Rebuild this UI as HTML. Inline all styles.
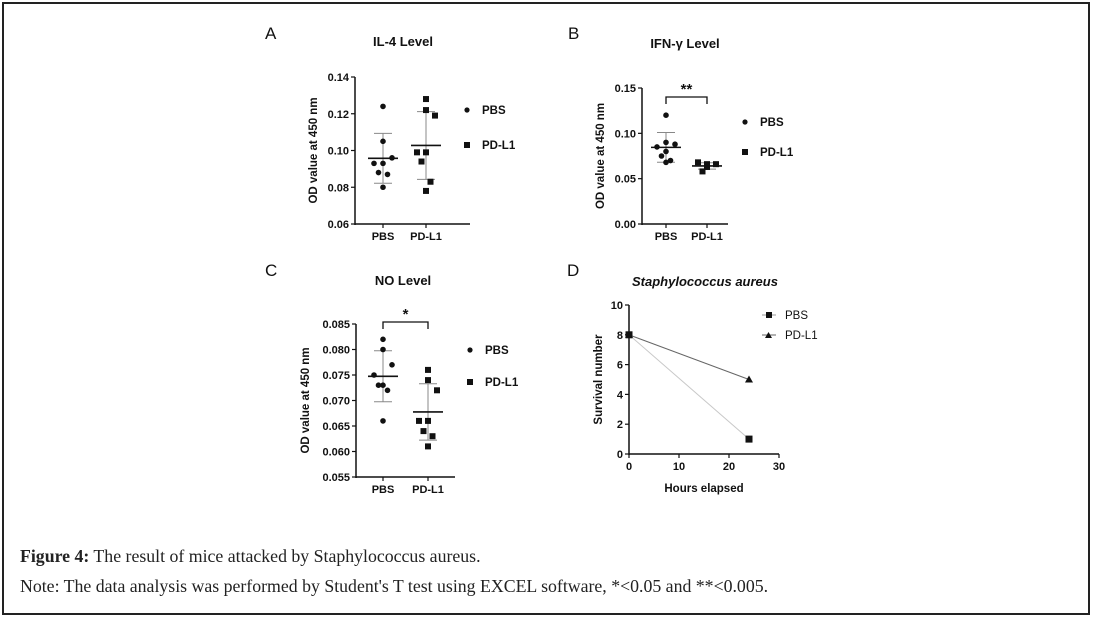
<!DOCTYPE html>
<html><head><meta charset="utf-8"><style>
body{margin:0;background:#fff;width:1093px;height:617px;overflow:hidden;font-family:"Liberation Sans",sans-serif}
#frame{position:absolute;left:2px;top:2px;width:1084px;height:609px;border:2px solid #222}
.cap{position:absolute;left:20px;font-family:"Liberation Serif",serif;font-size:17.8px;color:#222;white-space:nowrap}
svg text{font-family:"Liberation Sans",sans-serif;fill:#111}
</style></head><body>
<div id="frame"></div>
<svg id="chart" width="1093" height="617" style="position:absolute;left:0;top:0"></svg>
<div class="cap" style="top:546px"><b>Figure 4:</b> The result of mice attacked by Staphylococcus aureus.</div>
<div class="cap" style="top:576px">Note: The data analysis was performed by Student's T test using EXCEL software, *&lt;0.05 and **&lt;0.005.</div>
<script>
const groups=['PBS','PD-L1'];
const il4PBS=[0.124,0.105,0.096,0.093,0.093,0.088,0.087,0.080];
const il4PDL1=[0.128,0.122,0.119,0.099,0.099,0.094,0.083,0.078];
const il4Ticks=[0.06,0.08,0.10,0.12,0.14];
const ifnPBS=[0.120,0.090,0.088,0.085,0.080,0.075,0.070,0.068];
const ifnPDL1=[0.063,0.063,0.066,0.068,0.066,0.058];
const ifnTicks=[0.00,0.05,0.10,0.15];
const noPBS=[0.082,0.080,0.077,0.075,0.073,0.073,0.072,0.066];
const noPDL1=[0.076,0.074,0.072,0.066,0.066,0.064,0.063,0.061];
const noTicks=[0.055,0.060,0.065,0.070,0.075,0.080,0.085];
const hours=[0,24];
const survPBS=[8,1];
const survPDL1=[8,5];
const survYTicks=[0,2,4,6,8,10];
const survXTicks=[0,10,20,30];

const svg=document.getElementById('chart');
const NS='http://www.w3.org/2000/svg';
function mk(tag,attrs,parent){const e=document.createElementNS(NS,tag);for(const k in attrs)e.setAttribute(k,attrs[k]);(parent||svg).appendChild(e);return e;}
function txt(s,attrs,parent){const e=mk('text',attrs,parent);e.textContent=s;return e;}
function mean(a){return a.reduce((s,v)=>s+v,0)/a.length;}
function sd(a){const m=mean(a);return Math.sqrt(a.reduce((s,v)=>s+(v-m)*(v-m),0)/(a.length-1));}
const jit=[0,0,1,-1,0,-0.5,0.5,0,1,-1];

function scatterPanel(o){
  const g=mk('g',{});
  
  
  const Y=v=>o.y0-(v-o.lo)/(o.hi-o.lo)*(o.y0-o.y1);
  let t=txt(o.letter,{x:o.lx,y:o.ly,'font-size':17},g);
  
  t=txt(o.title,{x:o.tx,y:o.ty,'font-size':13,'font-weight':'bold','text-anchor':'middle'},g);
  
  mk('line',{x1:o.ax,y1:o.y1,x2:o.ax,y2:o.y0+1,stroke:'#111','stroke-width':1.5},g);
  mk('line',{x1:o.ax,y1:o.y0,x2:o.axEnd,y2:o.y0,stroke:'#111','stroke-width':1.5},g);
  o.ticks.forEach(v=>{
    mk('line',{x1:o.ax-4,y1:Y(v),x2:o.ax,y2:Y(v),stroke:'#111','stroke-width':1.2},g);
    const l=txt(v.toFixed(o.dec),{x:o.ax-6,y:Y(v)+4,'font-size':11,'font-weight':'bold','text-anchor':'end'},g);
    
  });
  const yt=txt('OD value at 450 nm',{x:0,y:0,'font-size':11.5,'font-weight':'bold','text-anchor':'middle',transform:`translate(${o.ytx},${(o.y0+o.y1)/2}) rotate(-90)`},g);
  
  [o.a,o.b].forEach((arr,i)=>{
    const cx=o.cx[i];
    mk('line',{x1:cx,y1:o.y0,x2:cx,y2:o.y0+4,stroke:'#111','stroke-width':1.2},g);
    const l=txt(groups[i],{x:cx,y:o.y0+16,'font-size':11,'font-weight':'bold','text-anchor':'middle'},g);
    
    const m=mean(arr),s=sd(arr);
    mk('line',{x1:cx,y1:Y(m+s),x2:cx,y2:Y(m-s),stroke:'#888','stroke-width':1},g);
    mk('line',{x1:cx-9,y1:Y(m+s),x2:cx+9,y2:Y(m+s),stroke:'#888','stroke-width':1},g);
    mk('line',{x1:cx-9,y1:Y(m-s),x2:cx+9,y2:Y(m-s),stroke:'#888','stroke-width':1},g);
    arr.forEach((v,j)=>{
      const px=cx+jit[j]*9;let e;
      if(i==0)e=mk('circle',{cx:px,cy:Y(v),r:2.8,fill:'#111'},g);
      else e=mk('rect',{x:px-3,y:Y(v)-3,width:6,height:6,fill:'#111'},g);
      
      
    });
    const ml=mk('line',{x1:cx-15,y1:Y(m),x2:cx+15,y2:Y(m),stroke:'#111','stroke-width':1.6},g);
    
  });
  if(o.sig){
    const br=mk('path',{d:`M${o.cx[0]},${o.by+7}V${o.by}H${o.cx[1]}V${o.by+7}`,fill:'none',stroke:'#111','stroke-width':1.3},g);
    
    const st=txt(o.sig,{x:(o.cx[0]+o.cx[1])/2,y:o.by-3,'font-size':15,'font-weight':'bold','text-anchor':'middle'},g);
    
  }
  mk('circle',{cx:o.legx,cy:o.legy,r:2.6,fill:'#111'},g);
  let lt=txt('PBS',{x:o.legx+15,y:o.legy+4,'font-size':11.5,'font-weight':'bold'},g);
  
  mk('rect',{x:o.legx-3,y:o.legy+o.legd-3,width:6,height:6,fill:'#111'},g);
  lt=txt('PD-L1',{x:o.legx+15,y:o.legy+o.legd+4,'font-size':11.5,'font-weight':'bold'},g);
  
}
scatterPanel({name:'panel-a-il4',letter:'A',lx:265,ly:39,title:'IL-4 Level',tx:403,ty:46,ax:355,axEnd:470,y0:224,y1:77,lo:0.06,hi:0.14,ticks:il4Ticks,dec:2,ytx:317,cx:[383,426],a:il4PBS,b:il4PDL1,legx:467,legy:110,legd:35});
scatterPanel({name:'panel-b-ifn',letter:'B',lx:568,ly:39,title:'IFN-γ Level',tx:685,ty:48,ax:642,axEnd:728,y0:224,y1:88,lo:0,hi:0.15,ticks:ifnTicks,dec:2,ytx:604,cx:[666,707],a:ifnPBS,b:ifnPDL1,sig:'**',by:97,legx:745,legy:122,legd:30});
scatterPanel({name:'panel-c-no',letter:'C',lx:265,ly:276,title:'NO Level',tx:403,ty:285,ax:356,axEnd:455,y0:477,y1:324,lo:0.055,hi:0.085,ticks:noTicks,dec:3,ytx:309,cx:[383,428],a:noPBS,b:noPDL1,sig:'*',by:322,legx:470,legy:350,legd:32});

(function(){
  const g=mk('g',{});
  
  
  const ax=629,y0=454,y1=305,xEnd=779;
  const X=v=>ax+v/30*(xEnd-ax), Y=v=>y0-v/10*(y0-y1);
  let t=txt('D',{x:567,y:276,'font-size':17},g);
  t=txt('Staphylococcus aureus',{x:705,y:286,'font-size':13,'font-weight':'bold','font-style':'italic','text-anchor':'middle'},g);
  
  mk('line',{x1:ax,y1:y1,x2:ax,y2:y0+1,stroke:'#111','stroke-width':1.5},g);
  mk('line',{x1:ax,y1:y0,x2:xEnd,y2:y0,stroke:'#111','stroke-width':1.5},g);
  survYTicks.forEach(v=>{mk('line',{x1:ax-4,y1:Y(v),x2:ax,y2:Y(v),stroke:'#111','stroke-width':1.2},g);
    const l=txt(String(v),{x:ax-6,y:Y(v)+4,'font-size':11,'font-weight':'bold','text-anchor':'end'},g);
    });
  survXTicks.forEach(v=>{mk('line',{x1:X(v),y1:y0,x2:X(v),y2:y0+4,stroke:'#111','stroke-width':1.2},g);
    const l=txt(String(v),{x:X(v),y:y0+16,'font-size':11,'font-weight':'bold','text-anchor':'middle'},g);
    });
  t=txt('Hours elapsed',{x:704,y:492,'font-size':11.5,'font-weight':'bold','text-anchor':'middle'},g);
  
  t=txt('Survival number',{x:0,y:0,'font-size':11.5,'font-weight':'bold','text-anchor':'middle',transform:`translate(602,${(y0+y1)/2}) rotate(-90)`},g);
  
  let l=mk('polyline',{points:hours.map((h,i)=>X(h)+','+Y(survPBS[i])).join(' '),fill:'none',stroke:'#c8c8c8','stroke-width':1},g);
  
  l=mk('polyline',{points:hours.map((h,i)=>X(h)+','+Y(survPDL1[i])).join(' '),fill:'none',stroke:'#666','stroke-width':1},g);
  
  hours.forEach((h,i)=>{
    let m=mk('polygon',{points:`${X(h)-4},${Y(survPDL1[i])+3} ${X(h)+4},${Y(survPDL1[i])+3} ${X(h)},${Y(survPDL1[i])-4}`,fill:'#111'},g);
    
    m=mk('rect',{x:X(h)-3.5,y:Y(survPBS[i])-3.5,width:7,height:7,fill:'#111'},g);
    
  });
  mk('line',{x1:762,y1:315,x2:776,y2:315,stroke:'#999','stroke-width':1},g);
  mk('rect',{x:766,y:312,width:6,height:6,fill:'#111'},g);
  t=txt('PBS',{x:785,y:319,'font-size':11.5},g);
  mk('line',{x1:762,y1:335,x2:776,y2:335,stroke:'#666','stroke-width':1},g);
  mk('polygon',{points:'765,338 772,338 768.5,332',fill:'#111'},g);
  t=txt('PD-L1',{x:785,y:339,'font-size':11.5},g);
})();
</script>
</body></html>
